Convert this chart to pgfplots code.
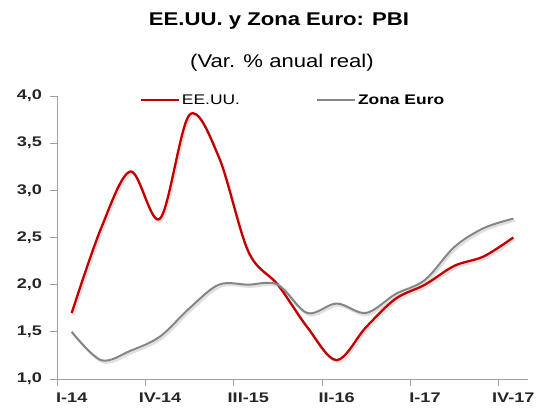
\documentclass[border=0pt]{standalone}
\usepackage{pgfplots}
\pgfplotsset{compat=1.18}
\usepackage{fontspec}
\setmainfont{Liberation Sans}
\newfontfamily\tickfont{Liberation Sans}[FakeStretch=1.3]
\newfontfamily\legfont{Liberation Sans}[FakeStretch=1.25]
\newfontfamily\titlefont{Liberation Sans}[FakeStretch=1.2]
\definecolor{usred}{HTML}{C00000}
\definecolor{eugray}{HTML}{858585}
\definecolor{axgray}{HTML}{A0A0A0}
\begin{document}
\begin{tikzpicture}
\begin{axis}[
  scale only axis,
  width=471bp, height=283bp,
  xmin=-0.5, xmax=15.5,
  ymin=1, ymax=4,
  axis lines=left,
  axis line style={draw=axgray, line width=0.8pt, -},
  ytick={1,1.5,2,2.5,3,3.5,4},
  xtick={-0.5,2.5,5.5,8.5,11.5,14.5},
  xticklabels={I-14,IV-14,III-15,II-16,I-17,IV-17},
  xticklabel style={xshift=14.72bp, yshift=-4bp, font=\fontsize{14}{16}\tickfont\bfseries, text=black!85},
  yticklabel style={xshift=-5bp, font=\fontsize{14}{16}\tickfont\bfseries, text=black!85},
  tick align=outside,
  major tick length=6.5bp,
  tick style={draw=axgray, line width=0.8pt},
  /pgf/number format/assume math mode=true,
  /pgf/number format/.cd, use comma, fixed, fixed zerofill, precision=1,
  /pgfplots/.cd,
  legend columns=2,
  legend style={draw=none, fill=none, at={(rel axis cs:0.175,0.985)}, anchor=west,
    font=\fontsize{14}{16}\legfont, /tikz/every even column/.append style={column sep=74bp},
    inner sep=0pt},
  legend image code/.code={\draw[#1] (0bp,0bp) -- (38bp,0bp);},
  clip=false,
]
% shadows
\addplot[black!12, line width=2.4pt, smooth, tension=0.55, forget plot, shift={(1.5bp,-2bp)}] coordinates {
(0,1.5) (1,1.2) (2,1.3) (3,1.45) (4,1.75) (5,2.0) (6,2.0) (7,2.0) (8,1.7) (9,1.8) (10,1.7) (11,1.9) (12,2.05) (13,2.4) (14,2.6) (15,2.7)};
\addplot[black!12, line width=2.6pt, smooth, tension=0.55, forget plot, shift={(1.5bp,-2bp)}] coordinates {
(0,1.7) (1,2.6) (2,3.2) (3,2.7) (4,3.8) (5,3.35) (6,2.35) (7,2.0) (8,1.55) (9,1.2) (10,1.55) (11,1.85) (12,2.0) (13,2.2) (14,2.3) (15,2.5)};
\addplot[usred, line width=2.3pt, smooth, tension=0.55] coordinates {
(0,1.7) (1,2.6) (2,3.2) (3,2.7) (4,3.8) (5,3.35) (6,2.35) (7,2.0) (8,1.55) (9,1.2) (10,1.55) (11,1.85) (12,2.0) (13,2.2) (14,2.3) (15,2.5)};
\addlegendentry{EE.UU.}
\addplot[eugray, line width=2.0pt, smooth, tension=0.55] coordinates {
(0,1.5) (1,1.2) (2,1.3) (3,1.45) (4,1.75) (5,2.0) (6,2.0) (7,2.0) (8,1.7) (9,1.8) (10,1.7) (11,1.9) (12,2.05) (13,2.4) (14,2.6) (15,2.7)};
\addlegendentry{\bfseries Zona Euro}
\end{axis}
\node[font=\fontsize{18.5}{20}\titlefont\bfseries, anchor=center] at (222bp,358bp) {EE.UU. y Zona Euro: PBI};
\node[font=\fontsize{18.5}{20}\titlefont, anchor=center] at (225bp,316bp) {(Var. \% anual real)};
\pgfresetboundingbox
\path[use as bounding box] (-57bp,-34bp) rectangle (480bp,379bp);
\end{tikzpicture}
\end{document}
